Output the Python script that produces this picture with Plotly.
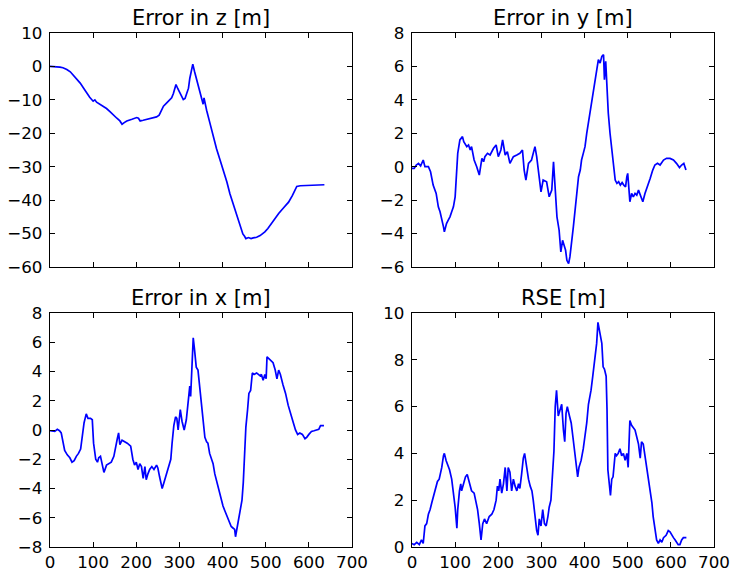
import plotly.graph_objects as go

# ---------------- data ----------------
z_t = [0, 10, 23, 30, 39, 47, 54, 62, 70, 78, 85, 92, 100, 104, 108, 116, 124, 131, 139, 147, 155, 162, 167, 172, 178, 190, 201, 205, 209, 216, 224, 232, 240, 247, 253, 258, 263, 270, 278, 282, 286, 292, 296, 300, 305, 309, 313, 317, 321, 324, 328, 331, 335, 340, 346, 352, 355, 357, 360, 363, 371, 378, 386, 394, 402, 410, 417, 425, 433, 437, 440, 444, 447, 451, 454, 460, 466, 471, 479, 487, 493, 498, 505, 518, 530, 542, 553, 562, 572, 580, 595, 610, 625, 636]
z_v = [0.0, 0.0, -0.2, -0.4, -0.9, -1.6, -2.6, -3.7, -5.0, -6.5, -8.0, -9.2, -10.4, -10.0, -10.7, -11.3, -12.0, -12.6, -13.5, -14.6, -15.5, -16.3, -17.3, -16.8, -16.3, -15.8, -15.3, -15.5, -16.3, -16.1, -15.9, -15.7, -15.4, -15.1, -14.6, -13.3, -11.9, -11.0, -10.1, -9.4, -8.1, -5.4, -6.6, -7.6, -9.2, -9.9, -9.6, -8.1, -6.5, -3.6, -1.5, 0.7, -1.5, -4.1, -7.0, -10.1, -11.3, -9.4, -11.6, -13.1, -17.1, -20.8, -24.6, -27.9, -31.1, -34.6, -38.1, -41.3, -44.6, -45.8, -47.1, -48.4, -50.1, -50.8, -51.5, -51.2, -51.5, -51.3, -51.1, -50.6, -50.1, -49.5, -48.5, -46.1, -44.0, -42.2, -40.6, -38.6, -35.9, -35.7, -35.6, -35.5, -35.5, -35.4]

y_t = [0, 5, 10, 15, 20, 26, 30, 38, 43, 49, 56, 61, 65, 69, 73, 75, 78, 80, 84, 88, 92, 96, 100, 103, 106, 111, 117, 120, 123, 127, 131, 135, 138, 144, 150, 156, 162, 166, 169, 175, 181, 185, 189, 195, 200, 206, 210, 216, 221, 227, 235, 243, 250, 256, 260, 264, 270, 277, 285, 289, 295, 299, 304, 312, 318, 324, 328, 332, 336, 341, 345, 349, 353, 356, 359, 363, 366, 370, 374, 378, 382, 386, 390, 393, 397, 401, 405, 412, 420, 428, 432, 436, 440, 444, 446, 449, 451, 455, 459, 463, 467, 471, 475, 479, 483, 487, 491, 495, 498, 500, 503, 505, 509, 513, 517, 521, 525, 529, 535, 540, 546, 552, 558, 563, 569, 575, 583, 590, 598, 606, 613, 620, 625, 630, 635]
y_v = [-0.1, -0.1, 0.1, 0.2, 0.05, 0.4, 0.0, 0.0, -0.3, -1.1, -1.6, -2.4, -2.7, -3.1, -3.6, -3.9, -3.6, -3.4, -3.2, -3.0, -2.7, -2.4, -1.8, -0.6, 0.8, 1.6, 1.8, 1.5, 1.4, 1.2, 1.3, 1.0, 1.2, 0.4, 0.0, -0.5, 0.5, 0.3, 0.6, 0.8, 0.7, 0.9, 1.1, 1.3, 0.6, 1.0, 1.6, 0.7, 0.9, 0.2, 0.6, 0.7, 0.8, 1.0, -0.2, -0.8, 0.2, 0.4, 1.2, 0.6, -0.7, -1.5, -0.8, -0.9, -1.8, -1.4, 0.3, -1.4, -3.0, -3.8, -5.1, -4.4, -4.8, -5.0, -5.6, -5.8, -5.4, -4.6, -3.6, -2.6, -1.6, -0.6, -0.2, 0.4, 0.8, 1.2, 2.0, 3.2, 4.6, 5.8, 6.4, 6.2, 6.6, 6.7, 5.2, 6.3, 5.0, 3.2, 2.0, 1.0, 0.0, -0.8, -1.0, -0.9, -1.1, -0.95, -1.1, -1.2, -0.6, -0.4, -1.4, -2.1, -1.6, -1.8, -1.6, -1.7, -1.4, -1.7, -2.1, -1.6, -1.2, -0.7, -0.2, 0.1, 0.2, 0.1, 0.4, 0.5, 0.5, 0.4, 0.2, -0.05, 0.1, 0.2, -0.2]

x_t = [0, 11, 17, 22, 26, 30, 34, 40, 46, 51, 56, 61, 66, 71, 75, 79, 84, 88, 94, 98, 101, 106, 110, 113, 117, 121, 125, 131, 136, 142, 148, 152, 156, 159, 162, 167, 173, 179, 187, 192, 196, 200, 204, 208, 212, 216, 220, 223, 227, 231, 236, 241, 247, 250, 254, 260, 264, 270, 275, 280, 283, 287, 291, 294, 297, 299, 302, 306, 311, 316, 320, 324, 326, 329, 332, 335, 339, 343, 347, 351, 355, 359, 363, 366, 370, 374, 378, 382, 386, 390, 394, 397, 401, 405, 409, 412, 416, 420, 424, 428, 430, 433, 437, 441, 445, 448, 451, 454, 458, 461, 465, 469, 473, 479, 483, 487, 490, 494, 498, 501, 503, 507, 511, 517, 522, 526, 530, 534, 540, 546, 552, 558, 564, 569, 574, 579, 585, 591, 595, 600, 606, 612, 617, 623, 627, 631, 635]
x_v = [-0.05, -0.1, 0.05, -0.05, -0.2, -0.9, -1.4, -1.7, -1.9, -2.2, -2.1, -1.8, -1.6, -1.3, -0.2, 0.5, 1.1, 0.8, 0.8, 0.7, -0.9, -2.0, -2.2, -1.9, -1.8, -2.5, -2.9, -2.4, -2.3, -2.2, -1.8, -1.3, -0.6, -0.2, -1.0, -0.7, -0.8, -0.9, -1.1, -2.0, -2.4, -2.2, -2.7, -2.3, -2.5, -3.3, -2.5, -3.4, -3.0, -2.7, -2.5, -2.7, -2.4, -2.6, -3.2, -4.0, -3.6, -3.0, -2.5, -2.0, -0.9, 0.3, 0.9, 0.8, 0.0, 0.5, 1.4, 0.6, 0.0, 0.7, 1.7, 3.0, 2.3, 4.1, 6.3, 5.5, 4.3, 4.1, 3.0, 1.6, 0.5, -0.5, -0.8, -0.9, -1.6, -2.0, -2.3, -3.0, -3.5, -3.9, -4.3, -4.8, -5.2, -5.5, -5.8, -6.1, -6.4, -6.6, -6.7, -6.8, -7.3, -6.8, -6.1, -5.5, -4.8, -3.6, -1.4, 0.2, 1.4, 2.5, 2.7, 3.9, 3.8, 3.9, 3.8, 3.7, 3.8, 3.4, 3.8, 3.5, 5.0, 4.9, 4.8, 4.6, 4.1, 3.5, 4.1, 3.8, 3.1, 2.5, 1.7, 1.0, 0.5, 0.0, -0.3, -0.2, -0.3, -0.6, -0.5, -0.3, -0.1, -0.05, 0.0, 0.05, 0.3, 0.3, 0.3]

r_t = [0, 5, 11, 17, 22, 26, 30, 34, 38, 42, 46, 50, 53, 59, 63, 69, 73, 75, 79, 83, 87, 92, 96, 100, 104, 106, 110, 113, 115, 119, 124, 128, 133, 138, 144, 148, 152, 156, 160, 164, 168, 173, 179, 185, 190, 195, 198, 201, 204, 208, 212, 216, 220, 223, 227, 231, 235, 239, 243, 247, 250, 254, 258, 261, 266, 270, 274, 278, 281, 285, 289, 292, 295, 299, 303, 307, 311, 315, 318, 322, 324, 326, 329, 332, 335, 339, 343, 347, 351, 354, 357, 360, 365, 369, 373, 377, 381, 384, 387, 392, 397, 401, 405, 409, 415, 419, 424, 428, 431, 434, 437, 440, 443, 446, 450, 452, 454, 457, 460, 463, 466, 471, 474, 478, 482, 486, 490, 494, 498, 501, 505, 509, 513, 517, 521, 525, 529, 532, 536, 540, 544, 548, 552, 556, 559, 563, 567, 571, 575, 579, 583, 589, 594, 598, 602, 606, 610, 614, 617, 621, 625, 629, 633, 636]
r_v = [0.15, 0.1, 0.2, 0.1, 0.3, 0.15, 0.9, 1.0, 1.4, 1.6, 1.9, 2.2, 2.4, 2.8, 2.9, 3.4, 3.9, 4.0, 3.7, 3.5, 3.3, 2.9, 2.4, 1.7, 0.8, 1.6, 2.4, 2.7, 2.4, 2.7, 3.0, 3.1, 2.7, 2.4, 2.3, 2.0, 1.6, 1.0, 0.3, 1.0, 1.2, 1.0, 1.3, 1.4, 1.6, 2.0, 2.6, 2.4, 2.9, 2.3, 2.7, 3.4, 2.4, 3.4, 3.2, 2.4, 2.9, 2.6, 2.4, 2.7, 2.5, 3.1, 3.8, 4.0, 3.3, 2.9, 2.6, 2.4, 2.0, 1.2, 0.7, 0.5, 1.2, 0.9, 1.6, 1.0, 0.9, 1.3, 1.7, 2.0, 2.6, 3.3, 4.1, 6.0, 6.7, 5.6, 5.9, 6.1, 5.0, 4.5, 5.7, 6.0, 5.6, 5.3, 4.7, 4.0, 3.3, 3.0, 3.4, 3.7, 4.2, 4.7, 5.3, 6.1, 6.7, 7.3, 8.0, 8.7, 9.6, 9.3, 8.9, 8.7, 7.7, 7.6, 7.3, 5.9, 3.3, 2.7, 2.2, 2.9, 3.0, 4.0, 3.9, 4.0, 4.2, 3.9, 4.0, 3.7, 4.0, 3.4, 5.4, 5.2, 5.1, 5.0, 4.7, 4.4, 3.8, 4.5, 4.4, 3.9, 3.3, 3.0, 2.4, 1.9, 1.3, 0.7, 0.3, 0.15, 0.3, 0.2, 0.4, 0.5, 0.7, 0.65, 0.5, 0.4, 0.3, 0.2, 0.1, 0.1, 0.3, 0.4, 0.4, 0.4]

titles = ["Error in z [m]", "Error in y [m]", "Error in x [m]", "RSE [m]"]
y_ranges = [[-60, 10], [-6, 8], [-8, 8], [0, 10]]
y_dticks = [10, 2, 2, 2]

# ---------------- figure ----------------
W, H = 730, 570
ml, mr, mt, mb = 50, 16, 33, 23
pw = W - ml - mr
ph = H - mt - mb
xl = [0, (352 - ml) / pw]
xr = [(412 - ml) / pw, 1]
yt = [(H - mb - 267) / ph, 1]
yb = [0, (H - mb - 313) / ph]

fig = go.Figure()
series = [(z_t, z_v), (y_t, y_v), (x_t, x_v), (r_t, r_v)]
for i, (t, v) in enumerate(series):
    fig.add_trace(go.Scatter(x=t, y=v, mode="lines",
                             line=dict(color="#0000ff", width=1.7),
                             xaxis=f"x{i+1 if i else ''}", yaxis=f"y{i+1 if i else ''}",
                             showlegend=False))

font = dict(family="DejaVu Sans", size=16.7, color="black")
domains_x = [xl, xr, xl, xr]
domains_y = [yt, yt, yb, yb]
for i in range(4):
    sfx = str(i + 1) if i else ""
    common = dict(showline=True, linecolor="black", linewidth=1.4, mirror="ticks",
                  ticks="inside", ticklen=5, tickwidth=1, tickcolor="black",
                  showgrid=False, zeroline=False, tickfont=font, automargin=False)
    fig.update_layout(**{
        f"xaxis{sfx}": dict(domain=domains_x[i], range=[0, 700], dtick=100, tick0=0,
                            anchor=f"y{sfx}", showticklabels=(i >= 2),
                            ticklabelstandoff=0, **common),
        f"yaxis{sfx}": dict(domain=domains_y[i], range=y_ranges[i], dtick=y_dticks[i],
                            anchor=f"x{sfx}", ticklabelstandoff=3, **common),
    })
    fig.add_annotation(text=titles[i], x=sum(domains_x[i]) / 2, y=domains_y[i][1],
                       xref="paper", yref="paper", xanchor="center", yanchor="bottom",
                       yshift=1, showarrow=False,
                       font=dict(family="DejaVu Sans", size=21, color="black"))

fig.update_layout(width=W, height=H, margin=dict(l=ml, r=mr, t=mt, b=mb, autoexpand=False),
                  plot_bgcolor="white", paper_bgcolor="white")
fig.write_html("out.html")
